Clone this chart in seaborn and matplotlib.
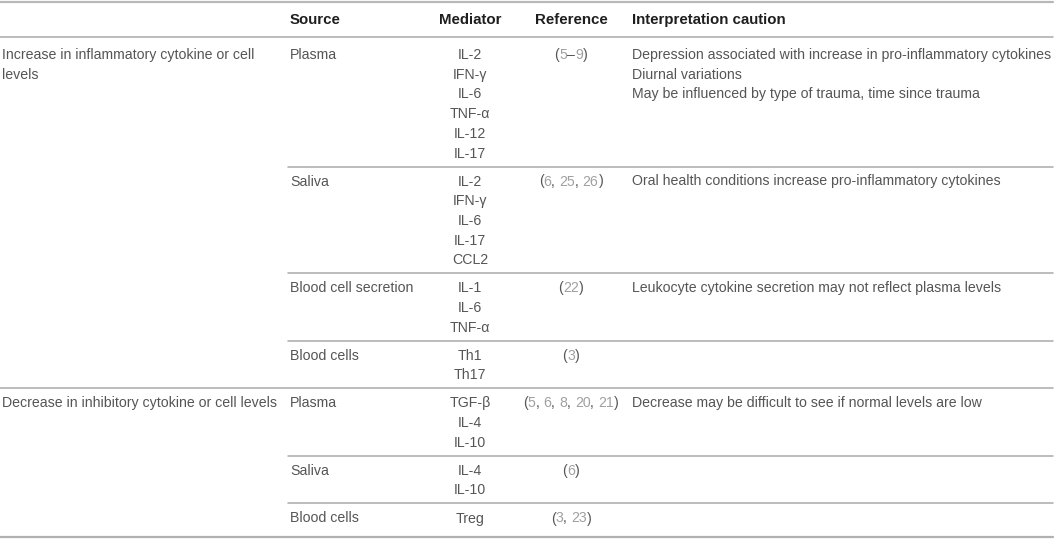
import re
import matplotlib
matplotlib.use("Agg")
import matplotlib.pyplot as plt
import seaborn as sns

# ---------------- data ----------------
headers = ["", "Source", "Mediator", "Reference", "Interpretation caution"]
categories = ["Increase in inflammatory cytokine or cell\nlevels",
              "Decrease in inhibitory cytokine or cell levels"]
sources = [["Plasma", "Saliva", "Blood cell secretion", "Blood cells"],
           ["Plasma", "Saliva", "Blood cells"]]
mediators = [[["IL-2", "IFN-γ", "IL-6", "TNF-α", "IL-12", "IL-17"],
              ["IL-2", "IFN-γ", "IL-6", "IL-17", "CCL2"],
              ["IL-1", "IL-6", "TNF-α"],
              ["Th1", "Th17"]],
             [["TGF-β", "IL-4", "IL-10"],
              ["IL-4", "IL-10"],
              ["Treg"]]]
references = [["(5–9)", "(6, 25, 26)", "(22)", "(3)"],
              ["(5, 6, 8, 20, 21)", "(6)", "(3, 23)"]]
cautions = [[["Depression associated with increase in pro-inflammatory cytokines",
              "Diurnal variations",
              "May be influenced by type of trauma, time since trauma"],
             ["Oral health conditions increase pro-inflammatory cytokines"],
             ["Leukocyte cytokine secretion may not reflect plasma levels"],
             []],
            [["Decrease may be difficult to see if normal levels are low"],
             [],
             []]]

# ---------------- style ----------------
sns.set_theme(style="white")
plt.rcParams['font.family'] = ['Liberation Sans', 'DejaVu Sans']

W, H = 1055, 542
fig = plt.figure(figsize=(W / 100, H / 100), dpi=100)
ax = fig.add_axes([0, 0, 1, 1])
ax.set_xlim(0, W)
ax.set_ylim(H, 0)
ax.axis("off")

WEIGHT = "normal"
BODY = "#555555"
NUM = "#a0a0a0"
LINE = "#a9a9a9"
PITCH = 19.7

col_cat, col_src, col_med, col_ref, col_cau = 2, 290, 470, 571, 632
sub_x0 = 288
x_end = 1053

renderer = fig.canvas.get_renderer()


def raw_width(s, fs, weight):
    t = ax.text(0, 0, s + "|", fontsize=fs, fontweight=weight)
    w1 = t.get_window_extent(renderer).width
    t.remove()
    t = ax.text(0, 0, "|", fontsize=fs, fontweight=weight)
    w2 = t.get_window_extent(renderer).width
    t.remove()
    return w1 - w2


# calibrate font sizes so the longest texts span the reference widths
FS = 10 * 419 / raw_width(cautions[0][0][0], 10, WEIGHT)
HFS = 10 * 154 / raw_width(headers[4], 10, "bold")

body_kw = dict(fontsize=FS, color=BODY, fontweight=WEIGHT, va="center")


def text_width(s):
    return raw_width(s, FS, WEIGHT)


# header
ax.plot([0, x_end], [1.8, 1.8], color="#b8b8b8", lw=1.6)
for h, x, ha in zip(headers, [col_cat, col_src, col_med, col_ref, col_cau],
                    ["left", "left", "center", "center", "left"]):
    ax.text(x, 20, h, fontsize=HFS, fontweight="bold", color="#1e1e1e",
            ha=ha, va="center")
ax.plot([0, x_end], [37, 37], color=LINE, lw=1.1)


def draw_reference(s, xc, y):
    tokens = re.findall(r"\d+|[^\d]+", s)
    total = text_width(s)
    x0 = xc - total / 2
    prefix = ""
    for tok in tokens:
        xs = x0 + (text_width(prefix) if prefix else 0)
        ax.text(xs, y, tok, ha="left",
                **{**body_kw, "color": NUM if tok.isdigit() else BODY})
        prefix += tok


y = 37
n_groups = len(categories)
for g in range(n_groups):
    n_sub = len(sources[g])
    for s in range(n_sub):
        pad_top = 18 if (g == 0 and s == 0) else 15
        last = (g == n_groups - 1 and s == n_sub - 1)
        pad_bot = 17 if last else 13
        yt = y + pad_top
        if s == 0:
            for k, line in enumerate(categories[g].split("\n")):
                ax.text(col_cat, yt + k * PITCH, line, ha="left", **body_kw)
        ax.text(col_src, yt, sources[g][s], ha="left", **body_kw)
        meds = mediators[g][s]
        for k, m in enumerate(meds):
            ax.text(col_med, yt + k * PITCH, m, ha="center", **body_kw)
        draw_reference(references[g][s], col_ref, yt)
        for k, c in enumerate(cautions[g][s]):
            ax.text(col_cau, yt + k * PITCH, c, ha="left", **body_kw)
        n_lines = max(len(meds), len(cautions[g][s]), 1)
        y = yt + (n_lines - 1) * PITCH + pad_bot
        if last:
            ax.plot([0, x_end], [y + 1, y + 1], color="#b0b0b0", lw=1.6)
        elif s == n_sub - 1:
            ax.plot([0, x_end], [y, y], color=LINE, lw=1.1)
        else:
            ax.plot([sub_x0, x_end], [y, y], color=LINE, lw=1.1)

fig.savefig("out.png", dpi=100)
